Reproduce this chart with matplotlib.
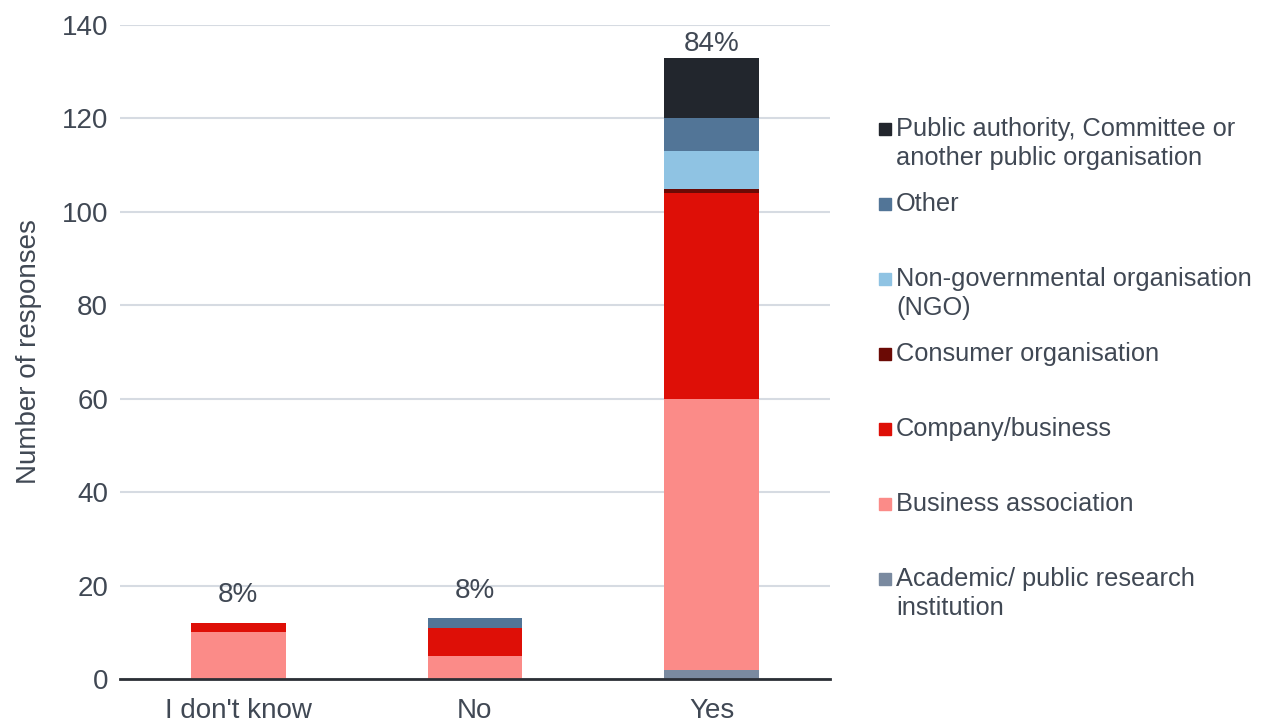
import matplotlib.pyplot as plt
from matplotlib.patches import Rectangle
import numpy as np

plt.rcParams['font.family'] = ['Liberation Sans', 'DejaVu Sans']

categories = ["I don't know", "No", "Yes"]
# stacked from the bottom up
series = [
    ("Academic/ public research\ninstitution", [0, 0, 2], '#7a8aa0'),
    ("Business association", [10, 5, 58], '#fb8b88'),
    ("Company/business", [2, 6, 44], '#de0f07'),
    ("Consumer organisation", [0, 0, 1], '#6b0a05'),
    ("Non-governmental organisation\n(NGO)", [0, 0, 8], '#8fc3e3'),
    ("Other", [0, 2, 7], '#527597'),
    ("Public authority, Committee or\nanother public organisation", [0, 0, 13], '#22262d'),
]

text_col = '#404854'

fig = plt.figure(figsize=(12.63, 7.25), dpi=100)
ax = fig.add_axes([0.095, 0.0634, 0.562, 0.9021])

x = np.arange(len(categories))
bottom = np.zeros(len(categories))
for name, vals, col in series:
    ax.bar(x, vals, 0.4, bottom=bottom, color=col, zorder=3)
    bottom += vals

totals = bottom
pcts = totals / totals.sum() * 100
offsets = [20, 20, 10]
for xi, t, p, off in zip(x, totals, pcts, offsets):
    ax.annotate(f"{p:.0f}%", (xi, t), xytext=(0, off), textcoords='offset points',
                ha='center', va='center', fontsize=20, color=text_col)

ax.set_xlim(-0.5, 2.5)
ax.set_ylim(0, 140)
ax.set_yticks(range(0, 141, 20))
ax.set_xticks(x)
ax.set_xticklabels(categories)
ax.yaxis.grid(True, color='#d6dbe2', linewidth=1.5, zorder=0)
for s in ['top', 'right', 'left']:
    ax.spines[s].set_visible(False)
ax.spines['bottom'].set_color('#2b2f36')
ax.spines['bottom'].set_linewidth(2)
ax.spines['bottom'].set_zorder(4)
ax.tick_params(axis='both', length=0, labelsize=20, colors=text_col)
ax.tick_params(axis='y', pad=8.5)
ax.tick_params(axis='x', pad=14)
ax.set_ylabel("Number of responses", fontsize=20, color=text_col, labelpad=14)

# legend drawn by hand, top entry first
W, H = 1263, 725
for i, (name, vals, col) in enumerate(reversed(series)):
    yc = 129 + 75 * i
    fig.patches.append(Rectangle((879 / W, 1 - (yc + 6) / H), 12 / W, 12 / H,
                                 transform=fig.transFigure, color=col))
    fig.text(896 / W, 1 - (yc - 12) / H, name, ha='left', va='top', fontsize=18.3,
             color=text_col, linespacing=1.25)

fig.savefig('out.png', dpi=100)
